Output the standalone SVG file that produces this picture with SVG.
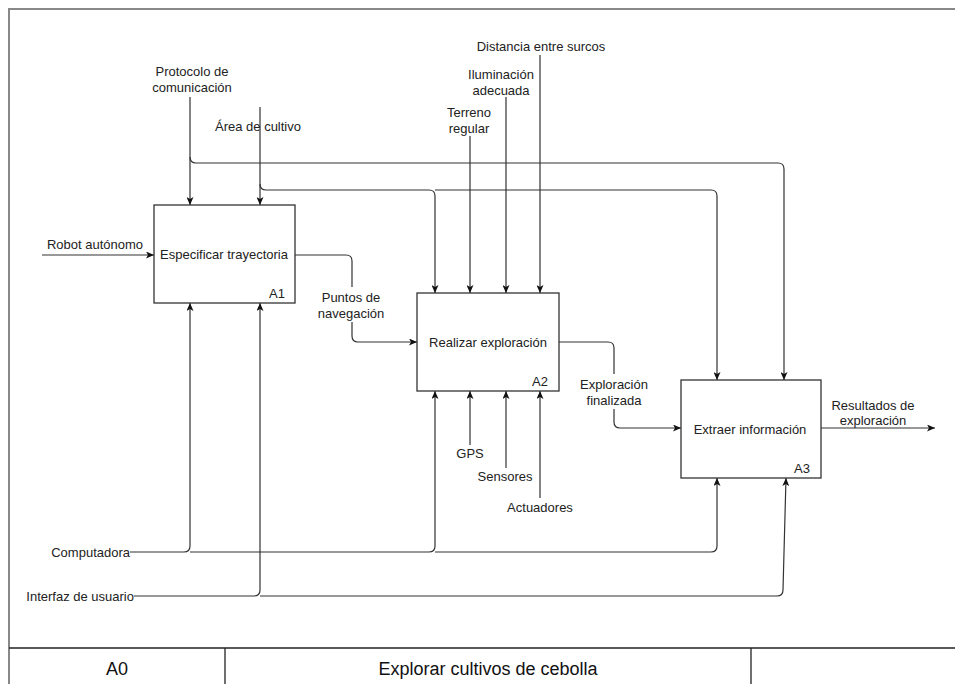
<svg xmlns="http://www.w3.org/2000/svg" width="955" height="684" viewBox="0 0 955 684">
<style>
  .ln{fill:none;stroke:#333;stroke-width:1.2}
  .arr{marker-end:url(#ar)}
  .box{fill:#fff;stroke:#333;stroke-width:1.3}
  .t{font-family:"Liberation Sans",Arial,Helvetica,sans-serif;font-size:13px;fill:#222}
  .c{text-anchor:middle}
  .e{text-anchor:end}
  .big{font-family:"Liberation Sans",Arial,Helvetica,sans-serif;font-size:18px;fill:#111;text-anchor:middle}
</style>
<defs>
  <marker id="ar" viewBox="0 0 8 7" refX="8" refY="3.5" markerWidth="8" markerHeight="7" orient="auto" markerUnits="userSpaceOnUse">
    <path d="M0,0 L8,3.5 L0,7 L2,3.5 z" fill="#111"/>
  </marker>
</defs>
<rect x="0" y="0" width="955" height="684" fill="#fff"/>
<g id="frame">
  <rect x="9" y="9" width="960" height="700" fill="none" stroke="#888" stroke-width="2"/>
  <line x1="9" y1="648" x2="955" y2="648" stroke="#222" stroke-width="1.3"/>
  <line x1="225" y1="648" x2="225" y2="684" stroke="#222" stroke-width="1.3"/>
  <line x1="751" y1="648" x2="751" y2="684" stroke="#222" stroke-width="1.3"/>
  <text class="big" x="117" y="675">A0</text>
  <text class="big" x="488" y="675">Explorar cultivos de cebolla</text>
</g>
<g id="connectors">
  <path class="ln arr" d="M42,255 H154"/>
  <path class="ln arr" d="M190,97 V205"/>
  <path class="ln arr" d="M190,157 Q190,163 196,163 H778 Q784,163 784,169 V380"/>
  <path class="ln arr" d="M260,107 V205"/>
  <path class="ln arr" d="M260,184 Q260,190 266,190 H429 Q435,190 435,196 V293"/>
  <path class="ln arr" d="M435,190 H711 Q717,190 717,196 V380"/>
  <path class="ln arr" d="M470,136 V293"/>
  <path class="ln arr" d="M506,97 V293"/>
  <path class="ln arr" d="M540,55 V293"/>
  <path class="ln arr" d="M295,255 H346 Q352,255 352,261 V336 Q352,342 358,342 H417"/>
  <path class="ln arr" d="M559,342 H608 Q614,342 614,348 V422 Q614,428 620,428 H681"/>
  <path class="ln arr" d="M821,428 H935"/>
  <path class="ln arr" d="M130,552 H184 Q190,552 190,546 V303"/>
  <path class="ln arr" d="M190,552 H429 Q435,552 435,546 V391"/>
  <path class="ln arr" d="M435,552 H711 Q717,552 717,546 V478"/>
  <path class="ln arr" d="M134,596 H254 Q260,596 260,590 V303"/>
  <path class="ln arr" d="M260,596 H777 Q783,596 783,590 L786,478"/>
  <path class="ln arr" d="M470,445 V391"/>
  <path class="ln arr" d="M506,468 V391"/>
  <path class="ln arr" d="M540,498 V391"/>
  <rect x="314" y="287" width="76" height="35" fill="#fff"/>
  <rect x="576" y="374" width="76" height="35" fill="#fff"/>
  <g class="t">
    <text class="c" x="95" y="249">Robot autónomo</text>
    <text class="c" x="192" y="76">Protocolo de</text>
    <text class="c" x="192" y="92">comunicación</text>
    <text class="c" x="258" y="131">Área de cultivo</text>
    <text class="c" x="541" y="51">Distancia entre surcos</text>
    <text class="c" x="501" y="79">Iluminación</text>
    <text class="c" x="501" y="95">adecuada</text>
    <text class="c" x="469" y="117">Terreno</text>
    <text class="c" x="469" y="133">regular</text>
    <text class="c" x="351" y="302">Puntos de</text>
    <text class="c" x="351" y="318">navegación</text>
    <text class="c" x="614" y="389">Exploración</text>
    <text class="c" x="614" y="405">finalizada</text>
    <text class="c" x="873" y="410">Resultados de</text>
    <text class="c" x="873" y="425">exploración</text>
    <text class="c" x="470" y="458">GPS</text>
    <text class="c" x="505" y="481">Sensores</text>
    <text class="c" x="540" y="512">Actuadores</text>
    <text class="e" x="130" y="557">Computadora</text>
    <text class="e" x="134" y="601">Interfaz de usuario</text>
  </g>
</g>
<g id="A1">
  <rect class="box" x="154" y="205" width="141" height="98"/>
  <text class="t c" x="224" y="259">Especificar trayectoria</text>
  <text class="t c" x="277" y="298">A1</text>
</g>
<g id="A2">
  <rect class="box" x="417" y="293" width="142" height="98"/>
  <text class="t c" x="488" y="347">Realizar exploración</text>
  <text class="t c" x="540" y="386">A2</text>
</g>
<g id="A3">
  <rect class="box" x="681" y="380" width="140" height="98"/>
  <text class="t c" x="750" y="434">Extraer información</text>
  <text class="t c" x="802" y="473">A3</text>
</g>
</svg>
